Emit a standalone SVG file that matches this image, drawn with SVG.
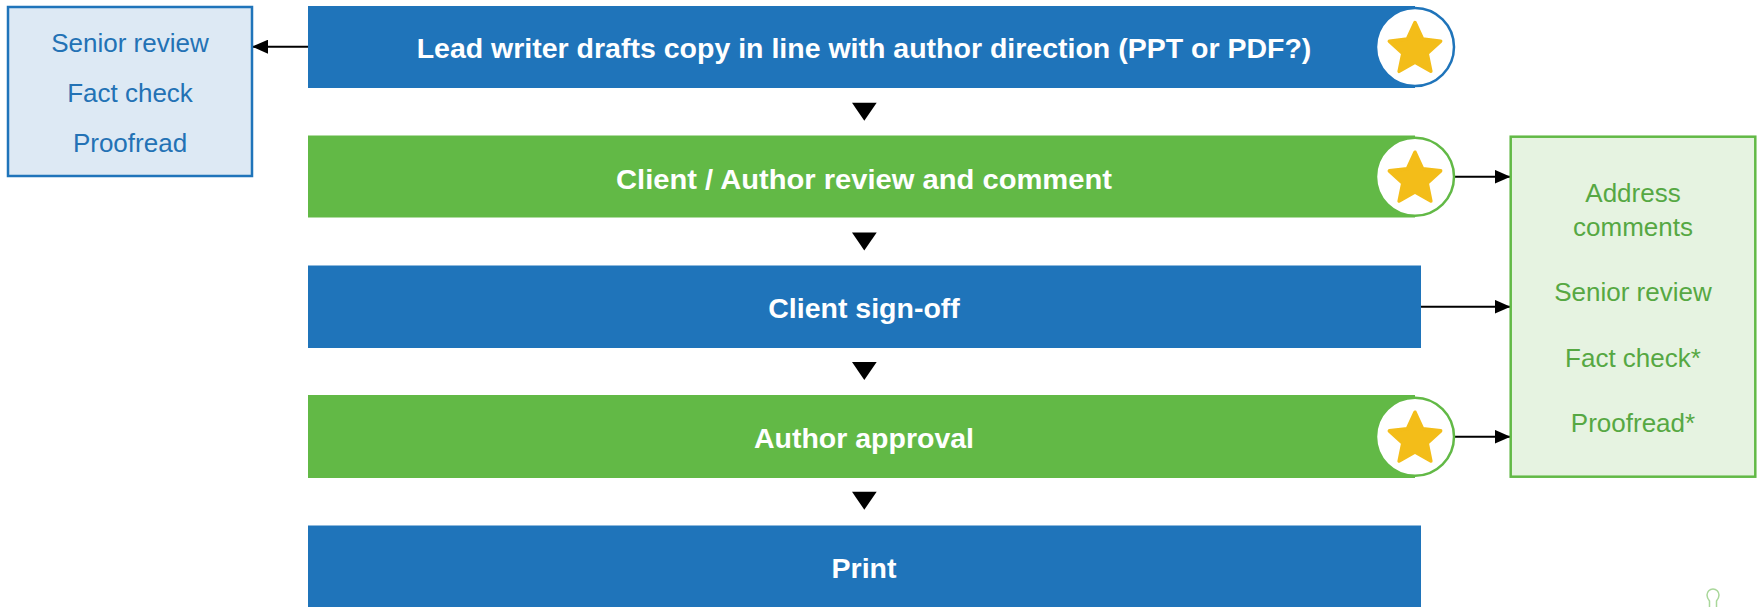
<svg xmlns="http://www.w3.org/2000/svg" width="1763" height="607" viewBox="0 0 1763 607">
<style>
  .bar-blue{fill:#1f74ba;}
  .bar-green{fill:#62b946;}
  .bartext{font-family:"Liberation Sans",Arial,sans-serif;font-weight:bold;font-size:28.5px;fill:#ffffff;text-anchor:middle;}
  .ring-blue{fill:#ffffff;stroke:#1f74ba;stroke-width:2.5;}
  .ring-green{fill:#ffffff;stroke:#62b946;stroke-width:2.5;}
  .star{fill:#f3bd19;stroke:#f3bd19;stroke-width:3.5;stroke-linejoin:round;}
  .side-blue{fill:#dde9f4;stroke:#1f74ba;stroke-width:2.5;}
  .side-green{fill:#e6f3e1;stroke:#62b946;stroke-width:2.5;}
  .t-blue{font-family:"Liberation Sans",Arial,sans-serif;font-size:26px;fill:#2372b5;text-anchor:middle;}
  .t-green{font-family:"Liberation Sans",Arial,sans-serif;font-size:26px;fill:#56a843;text-anchor:middle;}
  .conn{stroke:#000000;stroke-width:2;fill:none;}
  .tri{fill:#000000;}
</style>
<defs>
  <marker id="ah" markerUnits="userSpaceOnUse" markerWidth="16" markerHeight="14" refX="16" refY="7" orient="auto">
    <path d="M0,0 L16,7 L0,14 Z" fill="#000000"/>
  </marker>
  <polygon id="starshape" points="0,-27 7.6,-10.4 25.68,-8.34 12.2,4 15.87,21.84 0,12.8 -15.87,21.84 -12.2,4 -25.68,-8.34 -7.6,-10.4"/>
</defs>

<g id="connectors">
  <line class="conn" x1="308" y1="46.7" x2="252" y2="46.7" marker-end="url(#ah)"/>
  <line class="conn" x1="1455" y1="176.7" x2="1510.5" y2="176.7" marker-end="url(#ah)"/>
  <line class="conn" x1="1421" y1="306.7" x2="1510.5" y2="306.7" marker-end="url(#ah)"/>
  <line class="conn" x1="1455" y1="436.7" x2="1510.5" y2="436.7" marker-end="url(#ah)"/>
  <polygon class="tri" points="852,102.7 876.7,102.7 864.3,120.7"/>
  <polygon class="tri" points="852,232.4 876.7,232.4 864.3,250.4"/>
  <polygon class="tri" points="852,362.1 876.7,362.1 864.3,380.1"/>
  <polygon class="tri" points="852,491.8 876.7,491.8 864.3,509.8"/>
</g>

<g id="side-left">
  <rect class="side-blue" x="8" y="7" width="244" height="169"/>
  <text class="t-blue" x="130" y="52">Senior review</text>
  <text class="t-blue" x="130" y="101.7">Fact check</text>
  <text class="t-blue" x="130" y="151.7">Proofread</text>
</g>

<g id="step-lead">
  <rect class="bar-blue" x="308" y="6" width="1107" height="82"/>
  <circle class="ring-blue" cx="1415" cy="47" r="39"/>
  <use href="#starshape" class="star" transform="translate(1415,49.5)"/>
  <text class="bartext" x="864" y="58.3">Lead writer drafts copy in line with author direction (PPT or PDF?)</text>
</g>

<g id="step-client-review">
  <rect class="bar-green" x="308" y="135.5" width="1107" height="82"/>
  <circle class="ring-green" cx="1415" cy="176.7" r="39"/>
  <use href="#starshape" class="star" transform="translate(1415,179.2)"/>
  <text class="bartext" x="864" y="188.6" textLength="496" lengthAdjust="spacingAndGlyphs">Client / Author review and comment</text>
</g>

<g id="step-signoff">
  <rect class="bar-blue" x="308" y="265.5" width="1113" height="82.5"/>
  <text class="bartext" x="864" y="318">Client sign-off</text>
</g>

<g id="step-approval">
  <rect class="bar-green" x="308" y="395" width="1107" height="83"/>
  <circle class="ring-green" cx="1415" cy="436.7" r="39"/>
  <use href="#starshape" class="star" transform="translate(1415,439.2)"/>
  <text class="bartext" x="864" y="448">Author approval</text>
</g>

<g id="step-print">
  <rect class="bar-blue" x="308" y="525.5" width="1113" height="90"/>
  <text class="bartext" x="864" y="578.3">Print</text>
</g>

<g id="side-right">
  <rect class="side-green" x="1510.7" y="136.7" width="244.6" height="340"/>
  <text class="t-green" x="1633" y="201.7">Address</text>
  <text class="t-green" x="1633" y="235.7">comments</text>
  <text class="t-green" x="1633" y="301">Senior review</text>
  <text class="t-green" x="1633" y="366.7">Fact check*</text>
  <text class="t-green" x="1633" y="431.7">Proofread*</text>
</g>

<g id="corner-icon">
  <path d="M1709.5,607 L1709.5,601 Q1707,598 1707,595 A6,6 0 1 1 1719,595 Q1719,598 1716.5,601 L1716.5,607" fill="none" stroke="#a9d79a" stroke-width="1.5"/>
</g>
</svg>
